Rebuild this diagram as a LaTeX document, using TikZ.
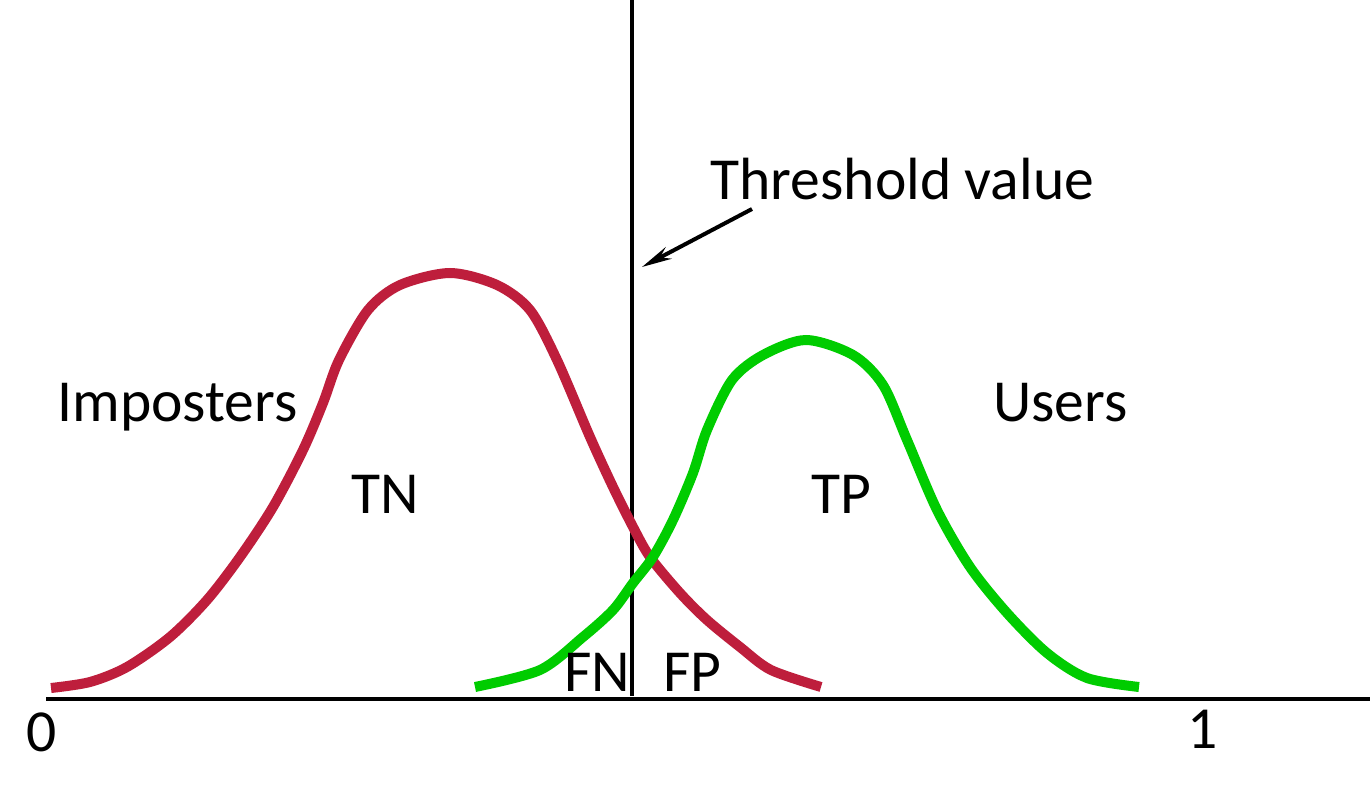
\documentclass[tikz,border=0pt]{standalone}
\usepackage{fontspec}
\setmainfont{Carlito}
\usetikzlibrary{arrows.meta}
\definecolor{impred}{RGB}{190,30,60}
\definecolor{usegreen}{RGB}{0,204,0}
\def\scale{0.5pt}
\tikzstyle{curve}=[line width=5pt]
\tikzstyle{tag}=[inner sep=0pt,anchor=base west,font=\fontsize{29.8}{36}\selectfont]

\begin{document}
\begin{tikzpicture}[x=\scale,y=-\scale]
       \useasboundingbox (0,0) rectangle (1370,812);
       % axis and threshold
       \coordinate (axl) at (46,699);
       \coordinate (axr) at (1370,699);
       \coordinate (thtop) at (632,0);
       \coordinate (thbot) at (632,696);
       \draw[line width=2.2pt] (axl) -- (axr);
       \draw[line width=2pt] (thtop) -- (thbot);
       % the two distributions
       \draw[curve,impred] plot[smooth,tension=0.5] coordinates {(51,688) (90,682) (127,667) (170,637) (207,600) (240,557) (273,507) (303,450) (323,403) (339,360) (368,310) (400,285) (450,273) (497,285) (530,310) (557,360) (590,437) (613,487) (633,527) (650,557) (680,593) (707,620) (740,647) (771,670) (821,687)};
       \draw[curve,usegreen] plot[smooth,tension=0.5] coordinates {(475,687) (540,670) (583,637) (613,610) (633,583) (653,557) (673,520) (693,473) (707,430) (732,380) (763,355) (806,340) (853,355) (883,385) (907,440) (937,510) (970,567) (1007,613) (1047,653) (1087,678) (1139,687)};
       \foreach \pos/\name/\txt in {{(710,200)/thr/Threshold value}, {(57,422)/imp/Imposters}, {(351,513)/tn/TN}, {(993,422)/usr/Users}, {(811,513)/tp/TP}, {(564,691)/fn/FN}, {(663,691)/fp/FP}, {(26,751)/zero/0}, {(1187,748)/one/1}} {
           \node[tag] (\name) at \pos {\txt};
       }
       \coordinate (arrtail) at (752,209);
       \coordinate (arrtip) at (642,267);
       \draw[line width=2pt,-{Stealth[length=15pt,width=6.5pt]}] (arrtail) -- (arrtip);
\end{tikzpicture}
\end{document}
